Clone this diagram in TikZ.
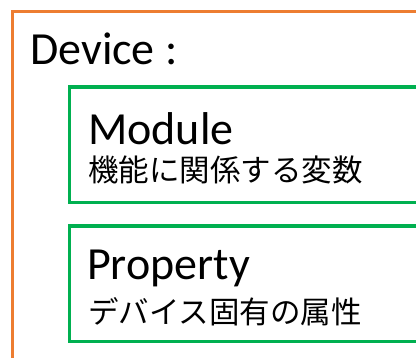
\documentclass[tikz,border=0pt]{standalone}
\usepackage{fontspec}
\setmainfont{Carlito}
\newfontfamily\jpfont{Noto Sans CJK JP}
\usepackage{tikz}
\usetikzlibrary{positioning}

\definecolor{devorange}{RGB}{237,125,49}
\definecolor{partgreen}{RGB}{0,176,80}

\begin{document}
\begin{tikzpicture}[
        x=1pt,
        y=-1pt,
        outer/.style={draw=devorange, line width=3.3pt, anchor=north west,
            minimum width=460pt, minimum height=400pt, inner sep=0pt},
        part/.style={draw=partgreen, line width=3.3pt, anchor=north west,
            minimum width=400pt, minimum height=115.5pt, inner sep=0pt},
        title/.style={font=\fontsize{46}{54}\selectfont, anchor=base west, inner sep=0pt},
        note/.style={font=\jpfont\fontsize{30.5}{36}\selectfont, anchor=base west, inner sep=0pt}
    ]
        \clip (0,0) rectangle (416,358);
        \fill[white] (0,0) rectangle (416,358);

        % frames
        \node[outer] (device) at (11,10) {};
        \node[part] (module) at (67.5,85.5) {};
        \node[part] (property) at (67.5,224.5) {};

        % labels
        \node[title] (devicename) at (30,65) {Device :};
        \node[title] (modulename) at (88,145) {Module};
        \node[note] (moduletext) at (88,182) {機能に関係する変数};
        \node[title] (propertyname) at (87,280) {Property};
        \node[note] (propertytext) at (88,324) {デバイス固有の属性};
    \end{tikzpicture}
\end{document}
